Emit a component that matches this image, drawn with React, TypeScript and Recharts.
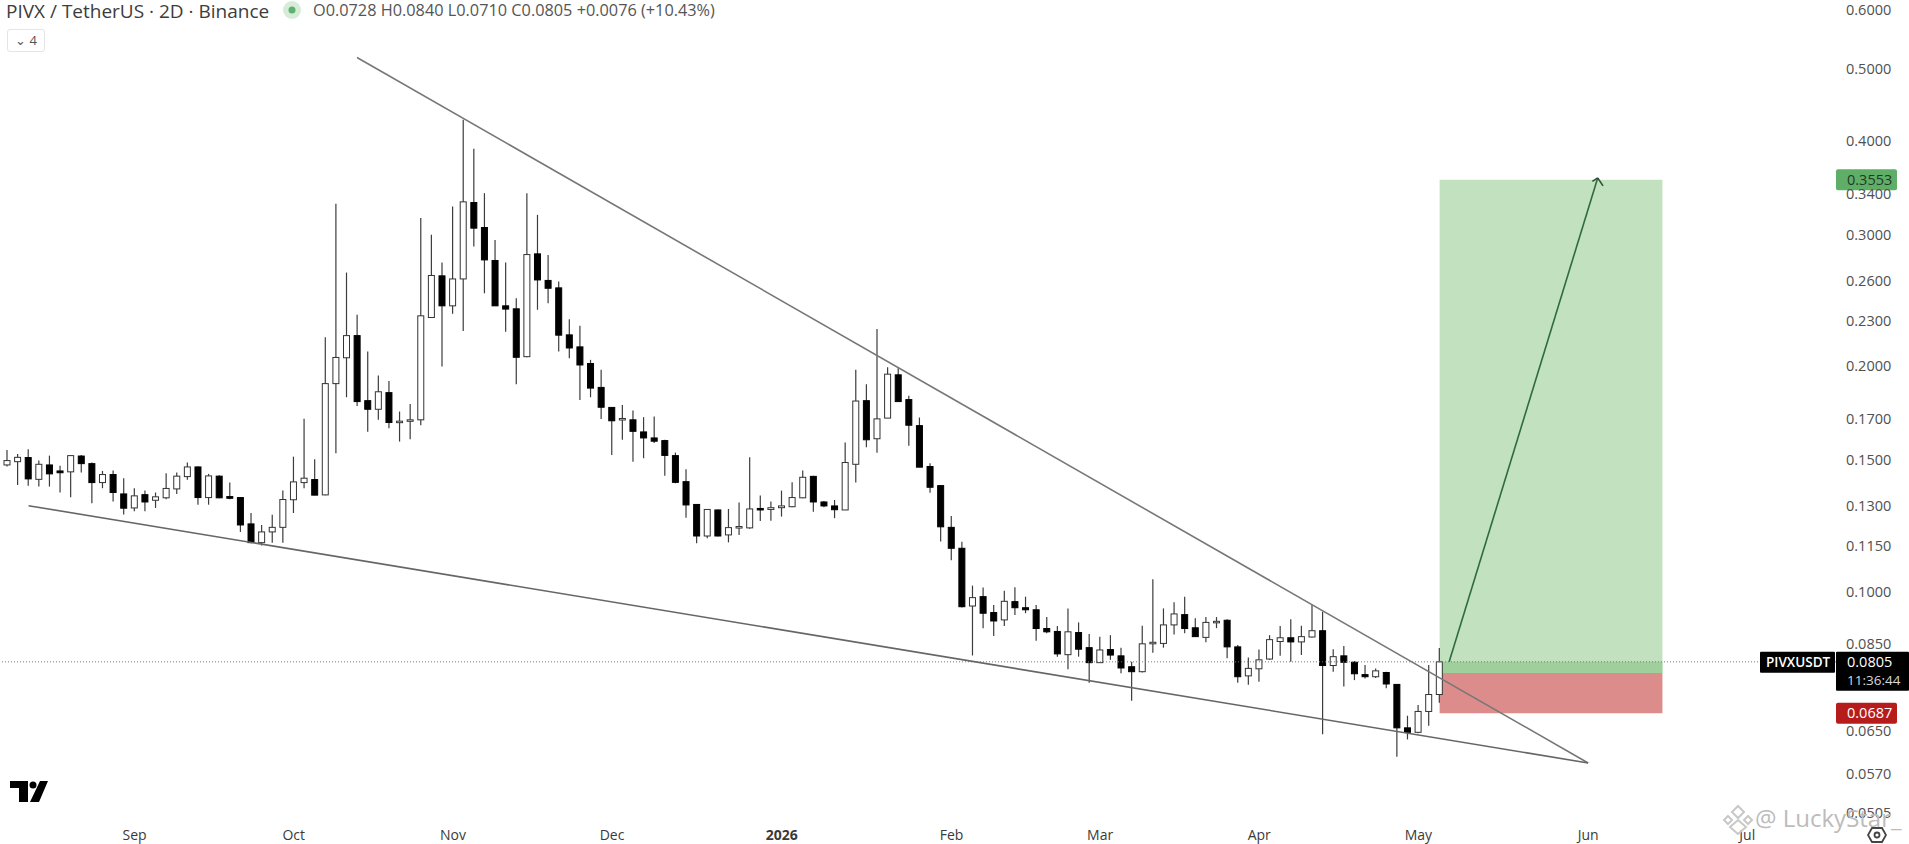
import { Bar, ComposedChart, ReferenceArea, ReferenceLine, XAxis, YAxis } from 'recharts';

const opens = [
  0.1476, 0.1491, 0.1510, 0.1412, 0.1476, 0.1449, 0.1445, 0.1517, 0.1482, 0.1398,
  0.1433, 0.1350, 0.1293, 0.1347, 0.1324, 0.1334, 0.1371, 0.1424, 0.1467, 0.1335,
  0.1426, 0.1339, 0.1335, 0.1231, 0.1162, 0.1201, 0.1218, 0.1326, 0.1398, 0.1411,
  0.1346, 0.1896, 0.2053, 0.2198, 0.1799, 0.1752, 0.1844, 0.1682, 0.1689, 0.1696,
  0.2324, 0.2642, 0.2409, 0.2617, 0.3311, 0.3066, 0.2770, 0.2409, 0.2387, 0.2060,
  0.2827, 0.2605, 0.2546, 0.2203, 0.2123, 0.2017, 0.1874, 0.1762, 0.1698, 0.1696,
  0.1634, 0.1604, 0.1591, 0.1519, 0.1402, 0.1307, 0.1186, 0.1285, 0.1190, 0.1216,
  0.1216, 0.1291, 0.1287, 0.1294, 0.1298, 0.1334, 0.1425, 0.1317, 0.1301, 0.1285,
  0.1479, 0.1799, 0.1600, 0.1705, 0.1948, 0.1805, 0.1666, 0.1469, 0.1385, 0.1218,
  0.1142, 0.0956, 0.0984, 0.0937, 0.0916, 0.0969, 0.0951, 0.0945, 0.0892, 0.0884,
  0.0823, 0.0881, 0.0841, 0.0803, 0.0836, 0.0820, 0.0793, 0.0781, 0.0852, 0.0852,
  0.0902, 0.0931, 0.0894, 0.0868, 0.0908, 0.0915, 0.0843, 0.0771, 0.0788, 0.0812,
  0.0857, 0.0867, 0.0856, 0.0869, 0.0886, 0.0796, 0.0820, 0.0804, 0.0774, 0.0769,
  0.0779, 0.0751, 0.0657, 0.0648, 0.0691, 0.0728,
];
const highs = [
  0.1546, 0.1527, 0.1549, 0.1496, 0.1519, 0.1472, 0.1522, 0.1522, 0.1487, 0.1449,
  0.1451, 0.1417, 0.1374, 0.1364, 0.1356, 0.1439, 0.1442, 0.1487, 0.1469, 0.1436,
  0.1430, 0.1398, 0.1336, 0.1273, 0.1227, 0.1266, 0.1364, 0.1514, 0.1701, 0.1502,
  0.2187, 0.3298, 0.2669, 0.2343, 0.2093, 0.1944, 0.1912, 0.1740, 0.1780, 0.3156,
  0.2998, 0.2753, 0.3271, 0.4272, 0.3907, 0.3408, 0.2951, 0.2752, 0.2466, 0.3408,
  0.3188, 0.2818, 0.2596, 0.2312, 0.2265, 0.2040, 0.1979, 0.1763, 0.1775, 0.1746,
  0.1710, 0.1713, 0.1595, 0.1533, 0.1457, 0.1308, 0.1289, 0.1287, 0.1289, 0.1315,
  0.1511, 0.1343, 0.1319, 0.1364, 0.1399, 0.1451, 0.1428, 0.1321, 0.1325, 0.1582,
  0.1979, 0.1893, 0.2243, 0.1994, 0.1988, 0.1827, 0.1708, 0.1484, 0.1388, 0.1261,
  0.1165, 0.1018, 0.1012, 0.0959, 0.1002, 0.1013, 0.0984, 0.0959, 0.0924, 0.0899,
  0.0949, 0.0909, 0.0877, 0.0870, 0.0874, 0.0841, 0.0805, 0.0900, 0.1038, 0.0949,
  0.0967, 0.0984, 0.0921, 0.0924, 0.0924, 0.0918, 0.0848, 0.0816, 0.0836, 0.0874,
  0.0899, 0.0918, 0.0900, 0.0959, 0.0939, 0.0837, 0.0845, 0.0807, 0.0797, 0.0789,
  0.0781, 0.0752, 0.0682, 0.0705, 0.0797, 0.0840,
];
const lows = [
  0.1469, 0.1388, 0.1384, 0.1381, 0.1381, 0.1356, 0.1336, 0.1442, 0.1312, 0.1374,
  0.1319, 0.1267, 0.1280, 0.1280, 0.1293, 0.1328, 0.1350, 0.1410, 0.1306, 0.1306,
  0.1332, 0.1328, 0.1201, 0.1160, 0.1152, 0.1162, 0.1162, 0.1273, 0.1374, 0.1345,
  0.1345, 0.1530, 0.1818, 0.1770, 0.1635, 0.1696, 0.1653, 0.1586, 0.1598, 0.1668,
  0.2324, 0.1998, 0.2351, 0.2230, 0.2892, 0.2504, 0.2409, 0.2225, 0.1893, 0.2056,
  0.2380, 0.2428, 0.2093, 0.2050, 0.1803, 0.1818, 0.1700, 0.1522, 0.1595, 0.1491,
  0.1507, 0.1579, 0.1428, 0.1395, 0.1255, 0.1160, 0.1178, 0.1184, 0.1163, 0.1190,
  0.1213, 0.1242, 0.1243, 0.1259, 0.1296, 0.1332, 0.1278, 0.1296, 0.1253, 0.1285,
  0.1398, 0.1559, 0.1533, 0.1705, 0.1794, 0.1566, 0.1466, 0.1355, 0.1166, 0.1101,
  0.0952, 0.0821, 0.0893, 0.0872, 0.0899, 0.0930, 0.0935, 0.0859, 0.0879, 0.0818,
  0.0787, 0.0818, 0.0755, 0.0803, 0.0810, 0.0777, 0.0714, 0.0779, 0.0828, 0.0841,
  0.0876, 0.0879, 0.0869, 0.0855, 0.0893, 0.0814, 0.0755, 0.0750, 0.0757, 0.0810,
  0.0820, 0.0805, 0.0822, 0.0868, 0.0644, 0.0781, 0.0746, 0.0761, 0.0765, 0.0766,
  0.0742, 0.0601, 0.0634, 0.0646, 0.0661, 0.0710,
];
const closes = [
  0.1496, 0.1511, 0.1414, 0.1479, 0.1436, 0.1441, 0.1519, 0.1482, 0.1398, 0.1433,
  0.1356, 0.1292, 0.1342, 0.1317, 0.1338, 0.1373, 0.1426, 0.1467, 0.1335, 0.1427,
  0.1334, 0.1332, 0.1227, 0.1162, 0.1201, 0.1218, 0.1327, 0.1401, 0.1417, 0.1345,
  0.1896, 0.2055, 0.2198, 0.1794, 0.1752, 0.1849, 0.1682, 0.1689, 0.1696, 0.2336,
  0.2645, 0.2409, 0.2617, 0.3318, 0.3060, 0.2775, 0.2409, 0.2385, 0.2056, 0.2821,
  0.2609, 0.2543, 0.2201, 0.2116, 0.2008, 0.1870, 0.1763, 0.1691, 0.1703, 0.1637,
  0.1604, 0.1588, 0.1520, 0.1399, 0.1305, 0.1186, 0.1287, 0.1186, 0.1217, 0.1221,
  0.1289, 0.1285, 0.1294, 0.1301, 0.1335, 0.1421, 0.1317, 0.1301, 0.1286, 0.1487,
  0.1797, 0.1595, 0.1701, 0.1952, 0.1794, 0.1668, 0.1466, 0.1378, 0.1220, 0.1142,
  0.0954, 0.0981, 0.0935, 0.0913, 0.0970, 0.0951, 0.0945, 0.0892, 0.0883, 0.0825,
  0.0883, 0.0837, 0.0803, 0.0835, 0.0822, 0.0790, 0.0781, 0.0851, 0.0855, 0.0902,
  0.0933, 0.0892, 0.0870, 0.0909, 0.0912, 0.0843, 0.0769, 0.0789, 0.0810, 0.0862,
  0.0867, 0.0856, 0.0870, 0.0886, 0.0796, 0.0818, 0.0804, 0.0776, 0.0769, 0.0783,
  0.0752, 0.0657, 0.0648, 0.0691, 0.0728, 0.0805,
];

const priceTicks = [0.6, 0.5, 0.4, 0.34, 0.3, 0.26, 0.23, 0.2, 0.17, 0.15, 0.13, 0.115, 0.1, 0.085, 0.065, 0.057, 0.0505];
const monthTicks = [12, 27, 42, 57, 73, 89, 103, 118, 133, 149, 164];
const monthLabels = ['Sep', 'Oct', 'Nov', 'Dec', '2026', 'Feb', 'Mar', 'Apr', 'May', 'Jun', 'Jul'];

// trend lines and the long position, in bar index / price
const upperTrend = [{ x: 32.96, y: 0.5175 }, { x: 149, y: 0.05897 }];
const lowerTrend = [{ x: 2, y: 0.1302 }, { x: 149, y: 0.05897 }];
const targetPrice = 0.3553;
const entryPrice = 0.0778;
const stopPrice = 0.0687;
const lastPrice = 0.0805;
const positionStart = 135;
const positionEnd = 156;
const arrowShaft = [{ x: 135.9, y: 0.0805 }, { x: 149.9, y: 0.3572 }];
const arrowWingLeft = [{ x: 149.4, y: 0.3534 }, { x: 149.9, y: 0.3572 }];
const arrowWingRight = [{ x: 150.4, y: 0.3485 }, { x: 149.9, y: 0.3572 }];

const candles = opens.map((open, i) => ({
  i,
  open,
  high: highs[i],
  low: lows[i],
  close: closes[i],
  range: [lows[i], highs[i]],
}));

const FONT = '"Open Sans", sans-serif';

// the bar covers low..high, the body is placed inside it on the same log scale
const Candle = (props: any) => {
  const { x, y, width, height, payload } = props;
  const { open, high, low, close } = payload;
  const span = Math.log(high / low);
  const cx = x + width / 2;
  const up = close >= open;
  const top = y + (height * Math.log(high / Math.max(open, close))) / span;
  const bottom = y + (height * Math.log(high / Math.min(open, close))) / span;
  return (
    <g>
      <line x1={cx} x2={cx} y1={y} y2={y + height} stroke="#3c3c3c" strokeWidth={1.2} />
      <rect
        x={x + 1}
        y={top}
        width={width - 2}
        height={Math.max(bottom - top, 1.5)}
        fill={up ? '#ffffff' : '#000000'}
        stroke={up ? '#333333' : '#000000'}
        strokeWidth={1}
      />
    </g>
  );
};

const MonthTick = ({ x, y, payload }: any) => {
  const label = monthLabels[monthTicks.indexOf(payload.value)];
  return (
    <text
      x={x}
      y={y + 12}
      textAnchor="middle"
      fontFamily={FONT}
      fontSize={14}
      fontWeight={label === '2026' ? 700 : 400}
      fill="#3a3a3a"
    >
      {label}
    </text>
  );
};

const PriceTag = ({ viewBox, text, fill, color, tagWidth }: any) => {
  const left = viewBox.x + viewBox.width;
  return (
    <g>
      <rect x={left} y={viewBox.y - 10.5} width={tagWidth} height={21} rx={2} fill={fill} />
      <text x={left + 11} y={viewBox.y + 5} fontFamily={FONT} fontSize={14.5} fill={color}>{text}</text>
    </g>
  );
};

const LastPriceTag = ({ viewBox }: any) => {
  const left = viewBox.x + viewBox.width;
  const y = viewBox.y;
  return (
    <g>
      <rect x={left - 76} y={y - 10} width={75} height={21} rx={1} fill="#000000" />
      <text x={left - 70} y={y + 5} fontFamily={FONT} fontSize={13.5} fontWeight={600} fill="#ffffff">PIVXUSDT</text>
      <rect x={left} y={y - 10} width={73} height={39} rx={1} fill="#000000" />
      <text x={left + 11} y={y + 5} fontFamily={FONT} fontSize={14.5} fill="#ffffff">0.0805</text>
      <text x={left + 11} y={y + 23} fontFamily={FONT} fontSize={13.5} fill="#d8d8d8">11:36:44</text>
    </g>
  );
};

export default function App() {
  return (
    <div style={{ position: 'absolute', left: 0, top: 0, width: 1909, height: 844, background: '#fff', overflow: 'hidden', fontFamily: FONT }}>
      <ComposedChart
        width={1909}
        height={844}
        data={candles}
        margin={{ top: 0, right: 0, bottom: 0, left: 0 }}
      >
        <XAxis
          dataKey="i"
          type="number"
          domain={[-0.688, 172.36]}
          allowDataOverflow
          ticks={monthTicks}
          interval={0}
          height={24}
          axisLine={false}
          tickLine={false}
          tick={<MonthTick />}
        />
        <YAxis
          orientation="right"
          scale="log"
          domain={[0.04947, 0.6177]}
          allowDataOverflow
          ticks={priceTicks}
          interval={0}
          width={73}
          axisLine={false}
          tickLine={false}
          tickMargin={4}
          tickFormatter={(v: number) => v.toFixed(4)}
          tick={{ fontFamily: FONT, fontSize: 14.5, fill: '#505050' }}
        />
        <ReferenceArea x1={positionStart} x2={positionEnd} y1={entryPrice} y2={targetPrice} fill="#c1e1bf" fillOpacity={1} stroke="none" ifOverflow="visible" />
        <ReferenceArea x1={positionStart} x2={positionEnd} y1={entryPrice} y2={lastPrice} fill="#9fd09c" fillOpacity={1} stroke="none" ifOverflow="visible" />
        <ReferenceLine y={lastPrice} stroke="#777777" strokeDasharray="1 2" label={<LastPriceTag />} />
        <ReferenceLine segment={upperTrend} stroke="#777777" strokeWidth={1.6} ifOverflow="visible" />
        <ReferenceLine segment={lowerTrend} stroke="#666666" strokeWidth={1.6} ifOverflow="visible" />
        <ReferenceLine segment={arrowShaft} stroke="#2f6b3f" strokeWidth={1.6} ifOverflow="visible" />
        <ReferenceLine segment={arrowWingLeft} stroke="#2f4f38" strokeWidth={1.6} ifOverflow="visible" />
        <ReferenceLine segment={arrowWingRight} stroke="#2f4f38" strokeWidth={1.6} ifOverflow="visible" />
        <ReferenceArea x1={positionStart} x2={positionEnd} y1={stopPrice} y2={entryPrice} fill="#d46f6f" fillOpacity={0.8} stroke="none" ifOverflow="visible" />
        <Bar dataKey="range" barSize={8} isAnimationActive={false} shape={<Candle />} />
        <ReferenceLine y={targetPrice} stroke="none" label={<PriceTag text="0.3553" fill="#5fae68" color="#1f3a24" tagWidth={61} />} />
        <ReferenceLine y={stopPrice} stroke="none" label={<PriceTag text="0.0687" fill="#b71c1c" color="#ffffff" tagWidth={61} />} />
      </ComposedChart>

      <div style={{ position: 'absolute', left: 6, top: 0, fontSize: 19, lineHeight: '22px', color: '#3c3c3c', whiteSpace: 'nowrap' }}>
        PIVX / TetherUS · 2D · Binance
      </div>
      <svg style={{ position: 'absolute', left: 282, top: 0 }} width={20} height={20}>
        <circle cx={10} cy={10} r={9} fill="#d6ecd8" />
        <circle cx={10} cy={10} r={3.5} fill="#5cb270" />
      </svg>
      <div style={{ position: 'absolute', left: 313, top: 0, fontSize: 16.3, lineHeight: '21px', color: '#555555', whiteSpace: 'nowrap' }}>
        O0.0728 H0.0840 L0.0710 C0.0805 +0.0076 (+10.43%)
      </div>
      <div style={{ position: 'absolute', left: 7, top: 29, width: 38, height: 23, border: '1px solid #e4e4e4', borderRadius: 3, boxSizing: 'border-box', fontSize: 13, color: '#555555', textAlign: 'center', lineHeight: '21px' }}>
        ⌄ 4
      </div>

      <svg style={{ position: 'absolute', left: 8, top: 778 }} width={44} height={26}>
        <path d="M2 3H20V24H11V10H2Z M32 3H40L31 24H22Z" fill="#000000" />
        <circle cx={25} cy={7} r={3.5} fill="#000000" />
      </svg>

      <svg style={{ position: 'absolute', left: 1722, top: 803 }} width={32} height={32}>
        <g fill="none" stroke="#c8c8c8" strokeWidth={2}>
          <path d="M16 3L22 9L16 15L10 9Z" />
          <path d="M6 13L10 17L6 21L2 17Z" />
          <path d="M26 13L30 17L26 21L22 17Z" />
          <path d="M16 17L24 24L16 31L8 24Z" />
        </g>
      </svg>
      <div style={{ position: 'absolute', left: 1755, top: 801, fontSize: 24, color: '#bcbcbc', whiteSpace: 'nowrap' }}>
        @ LuckyStar_
      </div>
      <svg style={{ position: 'absolute', left: 1867, top: 826 }} width={20} height={18}>
        <path d="M5 2H15L19 9L15 16H5L1 9Z" fill="none" stroke="#444444" strokeWidth={1.8} />
        <circle cx={10} cy={9} r={2.5} fill="none" stroke="#444444" strokeWidth={1.8} />
      </svg>
    </div>
  );
}
